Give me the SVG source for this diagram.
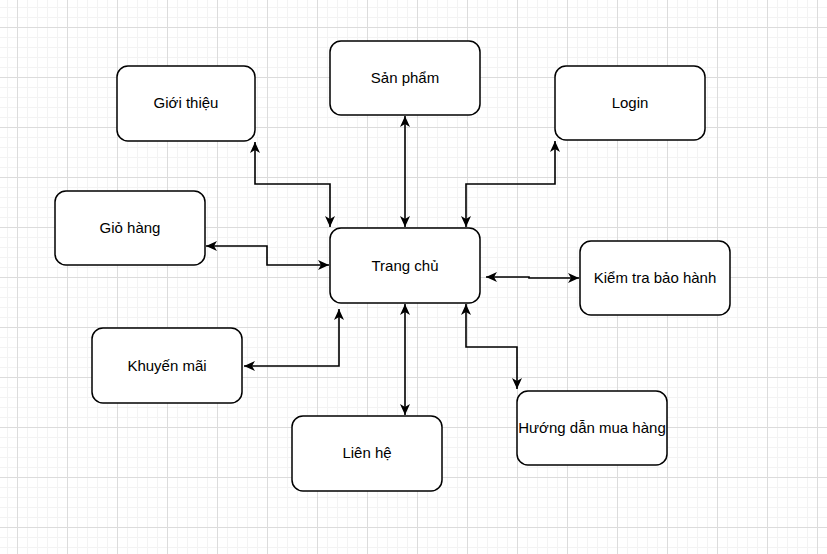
<svg xmlns="http://www.w3.org/2000/svg" width="827" height="554" viewBox="0 0 827 554">
<defs>
<pattern id="minor" x="7" y="7" width="10" height="10" patternUnits="userSpaceOnUse">
<path d="M0,0.5 H10 M0.5,0 V10" stroke="#f3f3f3" stroke-width="1" fill="none"/>
</pattern>
<pattern id="major" x="17" y="27" width="50" height="50" patternUnits="userSpaceOnUse">
<path d="M0,0.5 H50 M0.5,0 V50" stroke="#dcdcdc" stroke-width="1" fill="none"/>
</pattern>
<marker id="arr" viewBox="0 0 11 10" refX="11" refY="5" markerWidth="11" markerHeight="10" markerUnits="userSpaceOnUse" orient="auto-start-reverse">
<path d="M0,0 L11,5 L0,10 L3,5 z" fill="#000"/>
</marker>
<style>
.box{fill:#fff;stroke:#000;stroke-width:1.5}
.lbl{font-family:"Liberation Sans",Arial,sans-serif;font-size:15px;fill:#000;text-anchor:middle}
.c{fill:none;stroke:#000;stroke-width:1.6;marker-start:url(#arr);marker-end:url(#arr)}
</style>
</defs>
<rect width="827" height="554" fill="#fff"/>
<rect width="827" height="554" fill="url(#minor)"/>
<rect width="827" height="554" fill="url(#major)"/>
<g id="connectors">
<path class="c" d="M330,227 V184 H255 V142"/>
<path class="c" d="M405,116 V227"/>
<path class="c" d="M466,227 V184 H555 V141"/>
<path class="c" d="M206,246 H267 V265 H329"/>
<path class="c" d="M486,277 H529 V278 H579"/>
<path class="c" d="M466,304 V347 H517 V389"/>
<path class="c" d="M244,366 H339 V309"/>
<path class="c" d="M405,304 V415"/>
</g>
<g id="gioithieu"><rect class="box" x="117" y="66" width="138" height="75" rx="11"/><text class="lbl" x="186" y="108">Giới thiệu</text></g>
<g id="sanpham"><rect class="box" x="330" y="41" width="150" height="74" rx="11"/><text class="lbl" x="405" y="83">Sản phẩm</text></g>
<g id="login"><rect class="box" x="555" y="66" width="150" height="74" rx="11"/><text class="lbl" x="630" y="108">Login</text></g>
<g id="giohang"><rect class="box" x="55" y="191" width="150" height="74" rx="11"/><text class="lbl" x="130" y="233">Giỏ hàng</text></g>
<g id="trangchu"><rect class="box" x="330" y="228" width="150" height="75" rx="11"/><text class="lbl" x="405" y="271">Trang chủ</text></g>
<g id="kiemtra"><rect class="box" x="580" y="241" width="150" height="74" rx="11"/><text class="lbl" x="655" y="283">Kiểm tra bảo hành</text></g>
<g id="khuyenmai"><rect class="box" x="92" y="328" width="150" height="75" rx="11"/><text class="lbl" x="167" y="371">Khuyến mãi</text></g>
<g id="lienhe"><rect class="box" x="292" y="416" width="150" height="75" rx="11"/><text class="lbl" x="367" y="458">Liên hệ</text></g>
<g id="huongdan"><rect class="box" x="517" y="391" width="150" height="74" rx="11"/><text class="lbl" x="592" y="433">Hướng dẫn mua hàng</text></g>
</svg>
